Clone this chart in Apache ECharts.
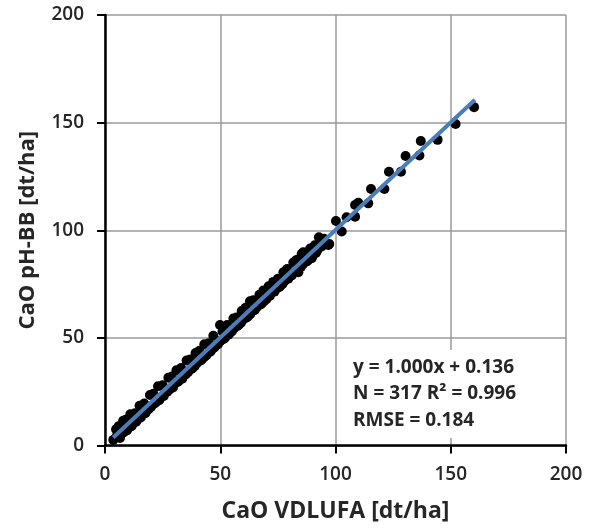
<!DOCTYPE html>
<html>
<head>
<meta charset="utf-8">
<script src="https://cdn.jsdelivr.net/npm/echarts@6/dist/echarts.min.js"></script>
<style>
  html, body { margin: 0; padding: 0; background: #fff; }
  #chart { width: 592px; height: 530px; }
</style>
</head>
<body>
<div id="chart"></div>
<script>
// CaO requirement: VDLUFA method (x) vs. pH-BB method (y), dt/ha
const caoVdlufa = [
  3.6, 4.8, 5, 6, 6.5, 7.9, 8, 9, 9.5, 10, 11, 11.5, 12, 13, 13.5, 14, 15, 15.5, 16, 17,
  17.5, 18, 19.5, 19, 20, 21, 21.5, 22, 23, 23.5, 24, 25, 25.5, 26, 27.5, 27, 28, 29, 29.5, 30,
  31, 31.5, 32, 33, 33.5, 34, 35.4, 35, 36, 37, 37.5, 38, 39.3, 39, 40, 41, 41.5, 42, 43.1, 43,
  44, 45, 45.5, 46, 47, 47.5, 48, 49.9, 49, 50, 51, 51.5, 52, 53, 53.5, 54, 55.7, 55, 56, 57,
  57.5, 58, 59.3, 59, 60, 61, 61.5, 62, 62.9, 63, 64, 64.3, 65, 66, 67, 67.5, 68, 68.7, 69, 70,
  71, 71.5, 72.3, 73, 73.5, 74, 75, 75.5, 76, 77.4, 77, 78, 79, 79.5, 80, 81.7, 81, 82, 83.9, 83,
  83.2, 84, 85.3, 85, 86, 86, 87, 87.5, 88, 89, 89.5, 89.7, 90, 91, 91.5, 92, 92.8, 93.3, 93, 94,
  95, 96.9, 97.3, 100.2, 102.7, 104.8, 108.5, 108.5, 109.9, 114.2, 115.4, 121.2, 123.2, 128.4,
  130.4, 136.4, 137.0, 144.3, 152.1, 160.1
];
const caoPhBB = [
  2.6, 7.5, 4, 9, 3.5, 11.5, 6, 12, 7, 8, 14.5, 9, 10, 15, 11, 12, 18.5, 13, 14.5, 19.5,
  15, 16, 23.5, 17, 18, 24, 19.5, 20, 27.5, 21, 22, 28, 23, 24.5, 31.5, 25, 26, 32, 27, 28.5,
  35, 29.5, 30, 36, 31, 32.5, 39.5, 33, 34, 40, 35.5, 36, 43, 37, 38.5, 44, 39.5, 40, 47, 41,
  42, 47.5, 43.5, 44, 51, 45.5, 46.5, 56, 47, 48.5, 53, 49.5, 50, 56, 51.5, 52, 59, 53, 54.5, 59.5,
  55.5, 56, 62.5, 57, 58.5, 64, 59.5, 60, 67, 61, 62.5, 67.5, 63, 64.5, 70, 65.5, 66, 72, 67, 68,
  74, 69.5, 71, 76, 71.5, 72.5, 77.5, 73.5, 74, 80.5, 75, 76.5, 82, 77.5, 78.5, 85, 79, 80.5, 80.5, 86,
  86.2, 82.5, 89, 83, 84.5, 89.8, 89.5, 85.5, 86, 91.5, 87.5, 87, 88, 93, 89.5, 90.5, 96.7, 96, 92, 92.5,
  96, 93.2, 93.6, 104.3, 99.4, 106.0, 106.3, 111.7, 112.8, 112.5, 119.2, 119.2, 127.2, 127.2,
  134.5, 134.7, 141.5, 142.0, 149.4, 157.2
];

// Linear fit reported in the annotation
const fitSlope = 1.000;
const fitIntercept = 0.136;
const fitRange = [3.6, 160.5];

const axisTicks = [0, 50, 100, 150, 200];
const annotationLines = ['y = 1.000x + 0.136', 'N = 317 R\u00B2 = 0.996', 'RMSE = 0.184'];

const points = caoVdlufa.map((x, i) => [x, caoPhBB[i]]);
const fitLine = fitRange.map(x => [x, fitSlope * x + fitIntercept]);

const FONT = '"Open Sans", "Liberation Sans", sans-serif';

const chart = echarts.init(document.getElementById('chart'), null, { renderer: 'canvas' });

const axisCommon = {
  type: 'value',
  min: axisTicks[0],
  max: axisTicks[axisTicks.length - 1],
  interval: axisTicks[1] - axisTicks[0],
  nameLocation: 'middle',
  axisLine: { show: true, onZero: false, lineStyle: { color: '#000', width: 2.5 } },
  axisTick: { show: true, inside: false, length: 8, lineStyle: { color: '#000', width: 2 } },
  axisLabel: { fontFamily: FONT, fontSize: 19, fontWeight: 600, color: '#262626' },
  splitLine: { show: true, lineStyle: { color: '#9a9a9a', width: 1.5 } }
};

chart.setOption({
  animation: false,
  backgroundColor: '#fff',
  grid: { left: 105, right: 26, top: 15, bottom: 84.5, containLabel: false },
  xAxis: Object.assign({}, axisCommon, {
    name: 'CaO VDLUFA [dt/ha]',
    nameGap: 54,
    nameTextStyle: { fontFamily: FONT, fontSize: 23, fontWeight: 'bold', color: '#262626' },
    axisLabel: Object.assign({}, axisCommon.axisLabel, { margin: 20 })
  }),
  yAxis: Object.assign({}, axisCommon, {
    name: 'CaO pH-BB [dt/ha]',
    nameGap: 66,
    nameTextStyle: { fontFamily: FONT, fontSize: 22, fontWeight: 'bold', color: '#262626' },
    axisLabel: Object.assign({}, axisCommon.axisLabel, { margin: 21 })
  }),
  series: [
    {
      name: 'Messwerte',
      type: 'scatter',
      data: points,
      symbol: 'circle',
      symbolSize: 10,
      itemStyle: { color: '#000', opacity: 1 },
      z: 2
    },
    {
      name: 'Regression',
      type: 'line',
      data: fitLine,
      symbol: 'none',
      lineStyle: { color: '#4a7ebb', width: 4 },
      z: 3
    }
  ],
  graphic: [
    {
      type: 'rect',
      left: 349,
      top: 350,
      shape: { width: 178, height: 88 },
      style: { fill: '#fff' },
      z: 10
    },
    {
      type: 'text',
      left: 353,
      top: 354,
      z: 11,
      style: {
        text: annotationLines.join('\n'),
        font: 'bold 19px ' + FONT,
        lineHeight: 26.7,
        fill: '#262626'
      }
    }
  ]
});
</script>
</body>
</html>
